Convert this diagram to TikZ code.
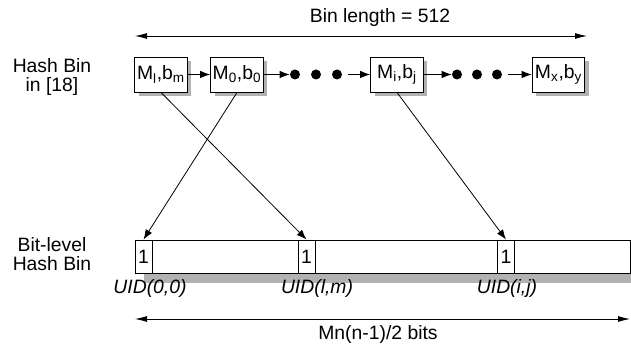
\documentclass[tikz,border=0pt]{standalone}
\usepackage{fontspec}
\setmainfont{Liberation Sans}
\usepackage{xcolor}
\usetikzlibrary{arrows.meta}
\usetikzlibrary{shadows, math}
\definecolor{mygray}{RGB}{178,178,178}
\newcommand\lblfont{\fontsize{14.5}{14.5}\selectfont}

\tikzset{
binbox/.style={draw, fill=white, line width=0.7pt, inner sep=0pt, minimum width=39.5pt, minimum height=26.25pt, general shadow={fill=mygray, shadow xshift=3pt, shadow yshift=-3pt}},
bitcell/.style={draw, fill=white, line width=0.7pt, inner sep=0pt, minimum width=12.75pt, minimum height=24.75pt},
chaindot/.style={circle, fill=black, inner sep=0pt, minimum size=7.5pt},
link/.style={-{Latex[length=7.5pt,width=5.5pt]}, line width=0.6pt},
dimarrow/.style={{Latex[length=9pt,width=4.5pt]}-{Latex[length=9pt,width=4.5pt]}, line width=0.6pt},
uidlabel/.style={anchor=base, font=\lblfont\itshape}
}

\begin{document}
\begin{tikzpicture}[x=0.75pt, y=-0.75pt, every node/.style={font=\lblfont}]
\tikzmath{
\yb=74.5;
\ys=256.5;
\ya=36;
\yd=319;
}
\useasboundingbox (0,0) rectangle (631,348);

\node[anchor=base] (binlen) at (380,23) {Bin length = 512};
\coordinate (lenL) at (135,\ya);
\coordinate (lenR) at (587,\ya);
\draw[dimarrow] (lenL) -- (lenR);

\node[align=center] (hashlbl) at (52,77) {Hash Bin\\in [18]};
\node[binbox] (bl) at (161,\yb) {M\textsubscript{l},b\textsubscript{m}};
\node[binbox] (b0) at (237,\yb) {M\textsubscript{0},b\textsubscript{0}};
\node[binbox] (bi) at (397,\yb) {M\textsubscript{i},b\textsubscript{j}};
\node[binbox] (bx) at (558.5,\yb) {M\textsubscript{x},b\textsubscript{y}};

\node[chaindot] (d1) at (295,\yb) {};
\node[chaindot] (d2) at (316,\yb) {};
\node[chaindot] (d3) at (337,\yb) {};
\node[chaindot] (d4) at (457,\yb) {};
\node[chaindot] (d5) at (477,\yb) {};
\node[chaindot] (d6) at (497,\yb) {};

\draw[link] (bl) -- (b0);
\draw[link] (b0) -- (d1);
\draw[link, shorten <=4pt] (d3) -- (bi);
\draw[link] (bi) -- (d4);
\draw[link, shorten <=4pt] (d6) -- (bx);

\node[align=center] (bitlbl) at (52,254) {Bit-level\\Hash Bin};
\fill[mygray] (144,250) rectangle (640,283);
\draw[fill=white, line width=0.7pt] (135,240) rectangle (630.5,273);
\node[bitcell] (c1) at (143.5,\ys) {1};
\node[bitcell] (c2) at (306.5,\ys) {1};
\node[bitcell] (c3) at (506,\ys) {1};

\draw[link] (b0.south) -- (c1.north);
\draw[link] (bl.south) -- (c2.north);
\draw[link] (bi.south) -- (c3.north);

\node[uidlabel] (u1) at (150,294) {UID(0,0)};
\node[uidlabel] (u2) at (317,294) {UID(l,m)};
\node[uidlabel] (u3) at (507,294) {UID(i,j)};

\coordinate (bitsL) at (135,\yd);
\coordinate (bitsR) at (630,\yd);
\draw[dimarrow] (bitsL) -- (bitsR);
\node[anchor=base] (bits) at (378,340) {Mn(n-1)/2 bits};
\end{tikzpicture}
\end{document}
